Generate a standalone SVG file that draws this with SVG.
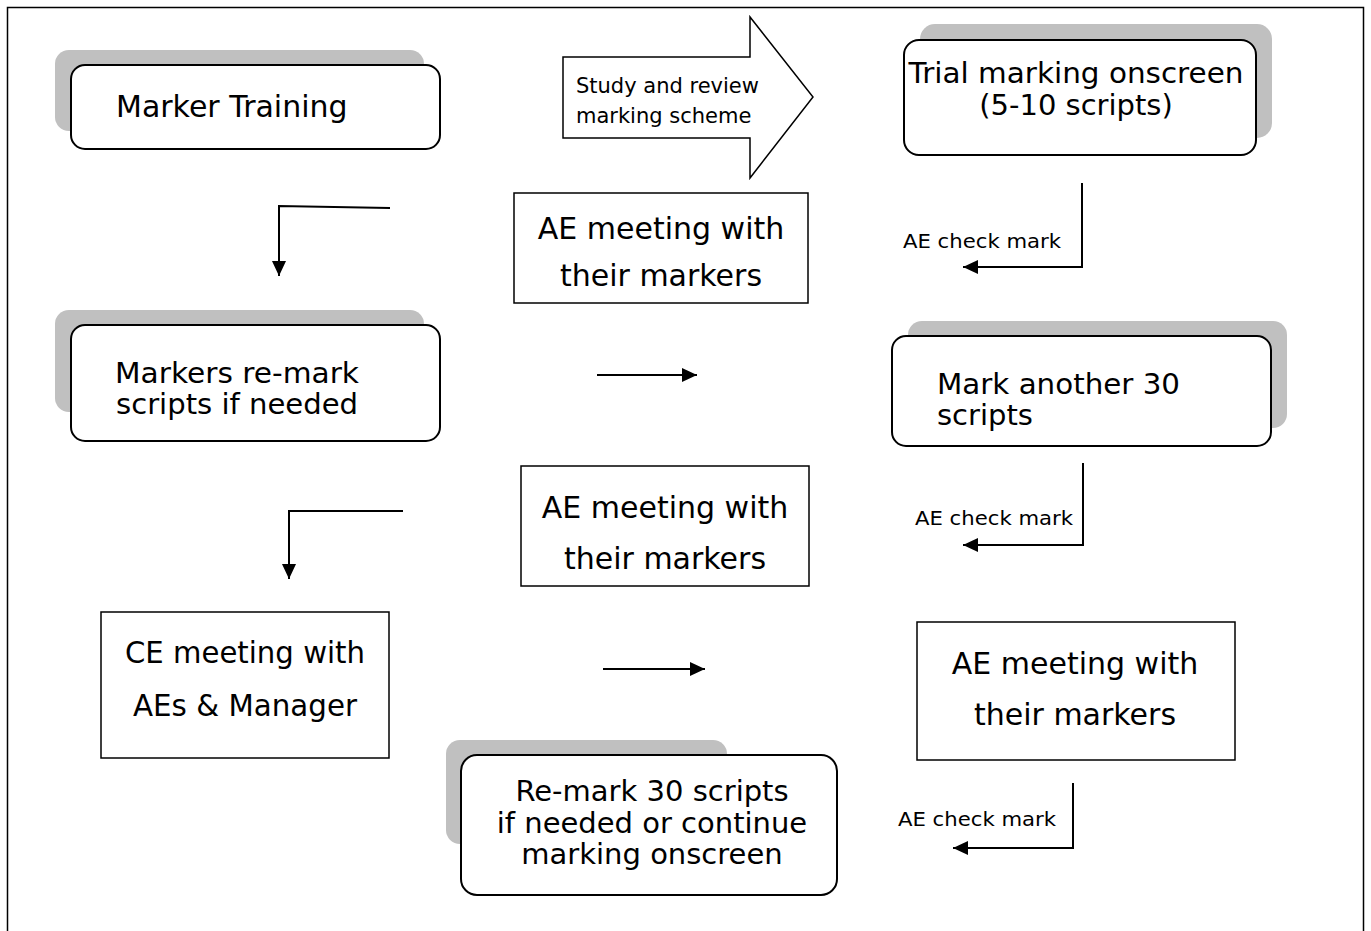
<svg xmlns="http://www.w3.org/2000/svg" width="1371" height="931" viewBox="0 0 1371 931">
<defs>
<style>
.frame{fill:#fff;stroke:#000;stroke-width:1.5}
.shadow{fill:#c0c0c0;stroke:none}
.rbox{fill:#fff;stroke:#000;stroke-width:2}
.sbox{fill:#fff;stroke:#000;stroke-width:1.5}
.conn{fill:none;stroke:#000;stroke-width:2}
.big{font-family:"DejaVu Sans","Verdana",sans-serif;font-size:30px;fill:#000}
.tight{font-family:"DejaVu Sans","Verdana",sans-serif;font-size:29px;fill:#000}
.mid{font-family:"DejaVu Sans","Verdana",sans-serif;font-size:21px;fill:#000}
.small{font-family:"DejaVu Sans","Verdana",sans-serif;font-size:20px;fill:#000}
.c{text-anchor:middle}
</style>
<marker id="ah" markerUnits="userSpaceOnUse" markerWidth="16" markerHeight="14" refX="15" refY="7" orient="auto">
<path d="M0,0 L15,7 L0,14 Z" fill="#000"/>
</marker>
</defs>
<rect class="frame" x="7.5" y="7.5" width="1356" height="940"/>

<g id="marker-training">
<rect class="shadow" x="55" y="50" width="369" height="81" rx="14"/>
<rect class="rbox" x="71" y="65" width="369" height="84" rx="14"/>
<text class="big" x="116" y="117">Marker Training</text>
</g>

<g id="study-review">
<path class="sbox" d="M563,57 L750,57 L750,17 L813,97 L750,178 L750,138 L563,138 Z"/>
<text class="mid" x="576" y="93">Study and review</text>
<text class="mid" x="576" y="123">marking scheme</text>
</g>

<g id="trial-marking">
<rect class="shadow" x="920" y="24" width="352" height="114" rx="15"/>
<rect class="rbox" x="904" y="40" width="352" height="115" rx="15"/>
<text class="tight c" x="1076" y="83" textLength="335" lengthAdjust="spacingAndGlyphs">Trial marking onscreen</text>
<text class="tight c" x="1076" y="115">(5-10 scripts)</text>
</g>

<g id="ae-meeting-1">
<rect class="sbox" x="514" y="193" width="294" height="110"/>
<text class="big c" x="661" y="239">AE meeting with</text>
<text class="big c" x="661" y="286">their markers</text>
</g>

<g id="markers-remark">
<rect class="shadow" x="55" y="310" width="369" height="102" rx="14"/>
<rect class="rbox" x="71" y="325" width="369" height="116" rx="14"/>
<text class="tight" x="115" y="383" textLength="244" lengthAdjust="spacingAndGlyphs">Markers re-mark</text>
<text class="tight" x="116" y="414" textLength="242" lengthAdjust="spacingAndGlyphs">scripts if needed</text>
</g>

<g id="mark-another">
<rect class="shadow" x="908" y="321" width="379" height="107" rx="14"/>
<rect class="rbox" x="892" y="336" width="379" height="110" rx="14"/>
<text class="tight" x="937" y="394" textLength="243" lengthAdjust="spacingAndGlyphs">Mark another 30</text>
<text class="tight" x="937" y="425">scripts</text>
</g>

<g id="ae-meeting-2">
<rect class="sbox" x="521" y="466" width="288" height="120"/>
<text class="big c" x="665" y="518">AE meeting with</text>
<text class="big c" x="665" y="569">their markers</text>
</g>

<g id="ce-meeting">
<rect class="sbox" x="101" y="612" width="288" height="146"/>
<text class="big c" x="245" y="663" textLength="240" lengthAdjust="spacingAndGlyphs">CE meeting with</text>
<text class="big c" x="245" y="716" textLength="224" lengthAdjust="spacingAndGlyphs">AEs &amp; Manager</text>
</g>

<g id="ae-meeting-3">
<rect class="sbox" x="917" y="622" width="318" height="138"/>
<text class="big c" x="1075" y="674">AE meeting with</text>
<text class="big c" x="1075" y="725">their markers</text>
</g>

<g id="remark-30">
<rect class="shadow" x="446" y="740" width="281" height="104" rx="14"/>
<rect class="rbox" x="461" y="755" width="376" height="140" rx="16"/>
<text class="tight c" x="652" y="801">Re-mark 30 scripts</text>
<text class="tight c" x="652" y="833">if needed or continue</text>
<text class="tight c" x="652" y="864">marking onscreen</text>
</g>

<g id="labels">
<text class="small" x="903" y="248" textLength="158" lengthAdjust="spacingAndGlyphs">AE check mark</text>
<text class="small" x="915" y="525" textLength="158" lengthAdjust="spacingAndGlyphs">AE check mark</text>
<text class="small" x="898" y="826" textLength="158" lengthAdjust="spacingAndGlyphs">AE check mark</text>
</g>

<g id="connectors">
<polyline class="conn" points="390,208 279,206 279,276" marker-end="url(#ah)"/>
<polyline class="conn" points="1082,183 1082,267 963,267" marker-end="url(#ah)"/>
<line class="conn" x1="597" y1="375" x2="697" y2="375" marker-end="url(#ah)"/>
<polyline class="conn" points="403,511 289,511 289,579" marker-end="url(#ah)"/>
<polyline class="conn" points="1083,463 1083,545 963,545" marker-end="url(#ah)"/>
<line class="conn" x1="603" y1="669" x2="705" y2="669" marker-end="url(#ah)"/>
<polyline class="conn" points="1073,783 1073,848 953,848" marker-end="url(#ah)"/>
</g>
</svg>
